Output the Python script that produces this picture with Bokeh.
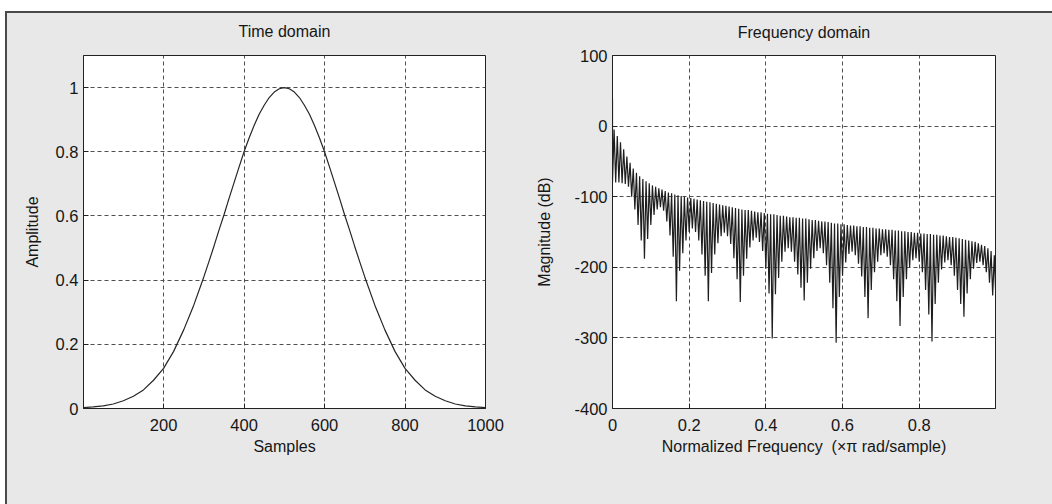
import numpy as np
from bokeh.plotting import figure
from bokeh.layouts import row
from bokeh.models import Range1d, FixedTicker
from bokeh.embed import file_html
from bokeh.resources import INLINE

# ---------------- data ----------------
# Time domain window (samples vs amplitude)
samples = [1, 25, 50, 75, 100, 125, 150, 175, 200, 225, 250, 275, 300, 312.5, 325, 337.5,
           350, 362.5, 375, 387.5, 400, 412.5, 425, 437.5, 450, 462.5, 475, 487.5, 500,
           512.5, 525, 537.5, 550, 562.5, 575, 587.5, 600, 612.5, 625, 637.5, 650, 662.5,
           675, 687.5, 700, 725, 750, 775, 800, 825, 850, 875, 900, 925, 950, 975, 1000]
amplitude = [0.003, 0.005, 0.008, 0.014, 0.024, 0.038, 0.058, 0.088, 0.125, 0.178, 0.245,
             0.322, 0.410, 0.457, 0.505, 0.555, 0.603, 0.654, 0.703, 0.752, 0.800, 0.843,
             0.882, 0.917, 0.945, 0.969, 0.986, 0.9965, 1.000, 0.9965, 0.986, 0.969,
             0.945, 0.917, 0.882, 0.843, 0.800, 0.752, 0.703, 0.654, 0.603, 0.555, 0.505,
             0.457, 0.410, 0.322, 0.245, 0.178, 0.125, 0.088, 0.058, 0.038, 0.024, 0.014,
             0.008, 0.005, 0.003]

# Frequency domain: main-lobe peak, side-lobe nulls and side-lobe peaks (dB)
mainlobe_db = 38
null_db = [
    -80, -80, -80, -81, -82, -86, -100, -118, -140, -162,
    -188, -160, -140, -126, -118, -115, -120, -135, -155, -185,
    -248, -205, -180, -162, -150, -145, -150, -162, -182, -212,
    -248, -208, -182, -166, -156, -151, -156, -167, -187, -217,
    -249, -212, -188, -172, -162, -158, -164, -177, -202, -237,
    -301, -238, -215, -192, -178, -173, -178, -192, -210, -229,
    -247, -222, -202, -187, -177, -173, -180, -197, -222, -258,
    -307, -242, -212, -193, -181, -178, -183, -195, -213, -242,
    -272, -232, -207, -192, -183, -180, -185, -197, -217, -248,
    -283, -242, -217, -200, -190, -187, -192, -207, -232, -267,
    -305, -252, -222, -203, -193, -190, -197, -212, -232, -252,
    -270, -237, -217, -202, -194, -192, -197, -207, -222, -240,
    -245,
]
peak_db = [
    -5, -14, -23, -33, -43, -52, -60, -66, -71, -75,
    -78, -81, -84, -86, -88, -90, -92, -94, -95, -97,
    -98, -99, -100, -101, -102, -103, -104, -105, -106, -107,
    -108, -109, -110, -111, -112, -113, -114, -115, -116, -117,
    -118, -119, -119, -120, -121, -122, -122, -123, -124, -125,
    -125, -126, -127, -127, -128, -129, -129, -130, -130, -131,
    -131, -132, -133, -133, -134, -135, -135, -136, -137, -138,
    -138, -139, -139, -140, -141, -141, -142, -142, -143, -143,
    -144, -144, -145, -145, -146, -146, -147, -147, -148, -148,
    -149, -149, -150, -150, -151, -151, -152, -152, -153, -153,
    -154, -154, -155, -155, -156, -157, -157, -158, -159, -160,
    -161, -162, -163, -164, -166, -168, -170, -173, -177, -183,
]

time_xticks = [200, 400, 600, 800, 1000]
time_yticks = [0, 0.2, 0.4, 0.6, 0.8, 1]
time_ylabels = ["0", "0.2", "0.4", "0.6", "0.8", "1"]
freq_xticks = [0, 0.2, 0.4, 0.6, 0.8]
freq_xlabels = ["0", "0.2", "0.4", "0.6", "0.8"]
freq_yticks = [-400, -300, -200, -100, 0, 100]
freq_ylabels = ["-400", "-300", "-200", "-100", "0", "100"]

# build zigzag for spectrum on an even frequency grid
n_lobes = len(peak_db)
fx = [0.0]
fy = [mainlobe_db]
for j in range(n_lobes):
    fx += [j / n_lobes, (j + 0.5) / n_lobes]
    fy += [null_db[j], peak_db[j]]
fx.append(1.0)
fy.append(null_db[-1])

FONT = "Liberation Sans"
BG = "#e8e8e8"
EDGE = "#4a4a4a"
INK = "#161616"


def style(p, xticks, yticks, xlabels=None, ylabels=None):
    p.background_fill_color = "white"
    p.border_fill_alpha = 0
    p.outline_line_color = "#222222"
    p.outline_line_width = 1
    p.title.align = "center"
    p.title.text_font = FONT
    p.title.text_font_size = "16px"
    p.title.text_font_style = "normal"
    p.title.text_color = INK
    for ax in (p.xaxis[0], p.yaxis[0]):
        ax.axis_line_color = "#222222"
        ax.major_tick_in = 5
        ax.major_tick_out = 0
        ax.major_tick_line_color = "#222222"
        ax.minor_tick_line_color = None
        ax.major_label_text_font = FONT
        ax.major_label_text_font_size = "16.5px"
        ax.major_label_text_color = INK
        ax.axis_label_text_font = FONT
        ax.axis_label_text_font_size = "16px"
        ax.axis_label_text_font_style = "normal"
        ax.axis_label_text_color = INK
    p.xaxis.ticker = FixedTicker(ticks=xticks)
    p.yaxis.ticker = FixedTicker(ticks=yticks)
    if xlabels:
        p.xaxis.major_label_overrides = {t: l for t, l in zip(xticks, xlabels)}
    if ylabels:
        p.yaxis.major_label_overrides = {t: l for t, l in zip(yticks, ylabels)}
    p.xaxis.major_label_standoff = 10
    p.yaxis.major_label_standoff = 5
    for g in (p.xgrid[0], p.ygrid[0]):
        g.grid_line_color = "#505050"
        g.grid_line_dash = "4 3"
        g.grid_line_width = 1
    p.xgrid.ticker = FixedTicker(ticks=xticks)
    p.ygrid.ticker = FixedTicker(ticks=yticks)


p1 = figure(width=526, height=504, x_range=Range1d(1, 1000), y_range=Range1d(0, 1.1),
            output_backend="svg", toolbar_location=None, title="Time domain",
            min_border_left=83, min_border_right=41, min_border_top=51, min_border_bottom=96,
            x_axis_label="Samples", y_axis_label="Amplitude")
style(p1, time_xticks, time_yticks, None, time_ylabels)
p1.title.standoff = 32
p1.yaxis.axis_label_standoff = 12
p1.xaxis.axis_label_standoff = 4
p1.line(samples, amplitude, line_color="#262626", line_width=1.2)

p2 = figure(width=526, height=504, x_range=Range1d(0, 0.999), y_range=Range1d(-400, 100),
            output_backend="svg", toolbar_location=None, title="Frequency domain",
            min_border_left=86, min_border_right=57, min_border_top=55, min_border_bottom=95,
            x_axis_label="Normalized Frequency\u00a0\u00a0(\u00d7\u03c0 rad/sample)",
            y_axis_label="Magnitude (dB)")
style(p2, freq_xticks, freq_yticks, freq_xlabels, freq_ylabels)
p2.title.standoff = 30
p2.title.offset = -6
p2.yaxis.axis_label_standoff = 18
p2.xaxis.axis_label_standoff = 4
p2.line(fx, fy, line_color="#1e1e1e", line_width=1.2)

layout = row(p1, p2, styles={
    "background-image": (
        f"linear-gradient(to right, #ffffff 0px, #ffffff 5px, {EDGE} 5px, {EDGE} 7px, transparent 7px), "
        f"linear-gradient(to bottom, #ffffff 0px, #ffffff 11px, {EDGE} 11px, {EDGE} 13px, {BG} 13px)"
    ),
    "background-position": "0 11px, 0 0",
    "background-size": "100% 100%, 100% 100%",
    "background-repeat": "no-repeat",
})

open("out.html", "w").write(file_html(layout, INLINE))
